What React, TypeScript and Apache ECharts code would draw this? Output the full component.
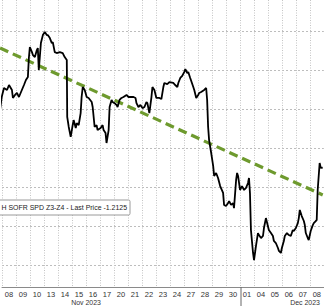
import React, { useEffect, useRef } from "react";
import * as echarts from "echarts";

const dayLabels = ["08","09","10","13","14","15","16","17","20","21","22","23","24","27","28","29","30","01","04","05","06","07","08"];

// intraday position, in trading days from the start of Nov 08
const dayPos = [
  -0.14,-0.02,0.14,0.36,0.50,0.71,0.78,0.93,1.07,1.21,1.42,1.57,1.71,1.85,1.92,1.99,2.14,2.21,2.35,2.49,
  2.56,2.63,2.78,2.92,3.06,3.20,3.27,3.42,3.56,3.63,3.77,3.91,4.13,4.34,4.48,4.63,4.66,4.77,4.91,5.05,
  5.12,5.27,5.34,5.48,5.62,5.69,5.77,5.91,6.05,6.19,6.41,6.48,6.62,6.76,6.83,7.05,7.19,7.26,7.40,7.47,
  7.62,7.69,7.83,7.90,8.04,8.19,8.26,8.40,8.54,8.68,8.90,9.04,9.25,9.40,9.54,9.61,9.75,9.89,10.04,10.18,
  10.32,10.39,10.53,10.68,10.75,10.89,11.03,11.25,11.39,11.53,11.60,11.81,11.96,12.24,12.38,12.53,12.60,12.74,12.88,13.02,
  13.10,13.24,13.31,13.45,13.67,13.74,13.88,14.02,14.09,14.23,14.45,14.59,14.66,14.73,14.80,14.95,15.09,15.16,15.30,15.44,
  15.59,15.80,15.87,16.01,16.16,16.23,16.37,16.51,16.58,16.73,16.80,16.87,17.01,17.15,17.30,17.44,17.58,17.65,17.72,17.79,
  17.94,18.01,18.15,18.29,18.36,18.51,18.65,18.72,18.86,19.00,19.07,19.22,19.36,19.43,19.57,19.72,19.79,19.93,20.00,20.14,
  20.21,20.36,20.50,20.64,20.78,20.85,21.00,21.14,21.21,21.28,21.42,21.57,21.64,21.71,21.85,21.92,22.06,22.21,22.28,22.42,
  22.49,22.56,22.70,22.78,22.92
];

const prices = [
  -1.1756,-1.1673,-1.1615,-1.1628,-1.1596,-1.1628,-1.1679,-1.1660,-1.1647,-1.1673,-1.1628,-1.1596,-1.1564,-1.1545,-1.1423,-1.1353,-1.1385,-1.1404,-1.1417,-1.1372,
  -1.1359,-1.1500,-1.1327,-1.1276,-1.1256,-1.1276,-1.1276,-1.1295,-1.1327,-1.1321,-1.1385,-1.1391,-1.1385,-1.1391,-1.1417,-1.1436,-1.1801,-1.1865,-1.1929,-1.1853,
  -1.1821,-1.1872,-1.1840,-1.1853,-1.1776,-1.1673,-1.1609,-1.1628,-1.1673,-1.1679,-1.1705,-1.1737,-1.1865,-1.1853,-1.1885,-1.1872,-1.1853,-1.1885,-1.1904,-1.1968,
  -1.1885,-1.1737,-1.1692,-1.1705,-1.1712,-1.1724,-1.1737,-1.1692,-1.1679,-1.1673,-1.1660,-1.1673,-1.1673,-1.1673,-1.1679,-1.1712,-1.1737,-1.1724,-1.1744,-1.1737,
  -1.1705,-1.1712,-1.1776,-1.1673,-1.1609,-1.1628,-1.1679,-1.1679,-1.1686,-1.1609,-1.1583,-1.1590,-1.1577,-1.1583,-1.1596,-1.1609,-1.1583,-1.1551,-1.1538,-1.1513,
  -1.1494,-1.1519,-1.1513,-1.1551,-1.1609,-1.1628,-1.1679,-1.1660,-1.1647,-1.1641,-1.1628,-1.1615,-1.1692,-1.1865,-1.1949,-1.2032,-1.2115,-1.2179,-1.2160,-1.2192,
  -1.2244,-1.2288,-1.2365,-1.2372,-1.2353,-1.2340,-1.2365,-1.2353,-1.2385,-1.2205,-1.2160,-1.2179,-1.2269,-1.2244,-1.2269,-1.2256,-1.2224,-1.2192,-1.2288,-1.2526,
  -1.2673,-1.2718,-1.2628,-1.2545,-1.2558,-1.2577,-1.2564,-1.2513,-1.2449,-1.2500,-1.2526,-1.2545,-1.2564,-1.2596,-1.2609,-1.2641,-1.2660,-1.2673,-1.2641,-1.2596,
  -1.2564,-1.2545,-1.2558,-1.2564,-1.2526,-1.2532,-1.2513,-1.2481,-1.2449,-1.2397,-1.2436,-1.2468,-1.2494,-1.2545,-1.2577,-1.2590,-1.2532,-1.2494,-1.2481,-1.2468,
  -1.2462,-1.2269,-1.2096,-1.2128,-1.2125
];

const trendPos = [-0.14, 22.92];
const trendVals = [-1.1359, -1.2301];

const yTicks = [-1.275, -1.25, -1.225, -1.2, -1.175, -1.15, -1.125];
const legendText = "H SOFR SPD Z3-Z4 - Last Price -1.2125";
const monthLabels = ["Nov 2023", "Dec 2023"];

export default function App() {
  const ref = useRef<HTMLDivElement>(null);
  useEffect(() => {
    if (!ref.current) return;
    const chart = echarts.init(ref.current, null, { renderer: "svg" });
    const font = '"Liberation Sans", sans-serif';
    chart.setOption({
      animation: false,
      backgroundColor: "#ffffff",
      grid: { left: 2, right: -1, top: 0, bottom: 19, containLabel: false },
      xAxis: [
        {
          type: "category",
          data: dayLabels,
          boundaryGap: true,
          axisLine: { show: true, lineStyle: { color: "#8a8a8a", width: 1 } },
          axisTick: { show: false },
          axisLabel: { show: true, interval: 0, fontSize: 7.5, color: "#333", margin: 3, fontFamily: font },
          splitLine: { show: true, interval: 0, lineStyle: { color: "#c4c4c4", type: [1, 1.5], width: 1 } },
        },
        { type: "value", min: 0, max: 23, show: false },
      ],
      yAxis: {
        type: "value",
        min: -1.2891,
        max: -1.1051,
        axisLine: { show: false },
        axisLabel: { show: false },
        axisTick: { show: false, customValues: yTicks },
        splitLine: { show: true, lineStyle: { color: "#bdbdbd", type: [2, 2], width: 1 } },
      },
      series: [
        {
          type: "line",
          xAxisIndex: 1,
          clip: false,
          symbol: "none",
          data: trendPos.map((d, i) => [d, trendVals[i]]),
          lineStyle: { color: "#6e9a2e", width: 3.2, type: [9, 5] },
          z: 2,
        },
        {
          type: "line",
          xAxisIndex: 1,
          clip: false,
          symbol: "none",
          data: dayPos.map((d, i) => [d, prices[i]]),
          lineStyle: { color: "#000000", width: 1.8 },
          z: 3,
        },
      ],
      graphic: [
        {
          type: "rect",
          z: 10,
          shape: { x: -3, y: 200, width: 133, height: 15, r: 1.5 },
          style: { fill: "#ffffff", stroke: "#9a9a9a", lineWidth: 1 },
        },
        {
          type: "text",
          z: 11,
          x: 127,
          y: 207.5,
          scaleX: 0.87,
          style: { text: legendText, fill: "#222", font: `8px ${font}`, align: "right", verticalAlign: "middle" },
        },
        {
          type: "line",
          z: 10,
          shape: { x1: 241, y1: 287, x2: 241, y2: 306 },
          style: { stroke: "#666", lineWidth: 1 },
        },
        {
          type: "text",
          z: 10,
          x: 86,
          y: 302.5,
          scaleX: 0.87,
          style: { text: monthLabels[0], fill: "#333", font: `8px ${font}`, align: "center", verticalAlign: "middle" },
        },
        {
          type: "text",
          z: 10,
          x: 305,
          y: 302.5,
          scaleX: 0.87,
          style: { text: monthLabels[1], fill: "#333", font: `8px ${font}`, align: "center", verticalAlign: "middle" },
        },
      ],
    });
    return () => chart.dispose();
  }, []);
  return <div ref={ref} style={{ position: "fixed", left: 0, top: 0, width: 324, height: 306 }} />;
}
